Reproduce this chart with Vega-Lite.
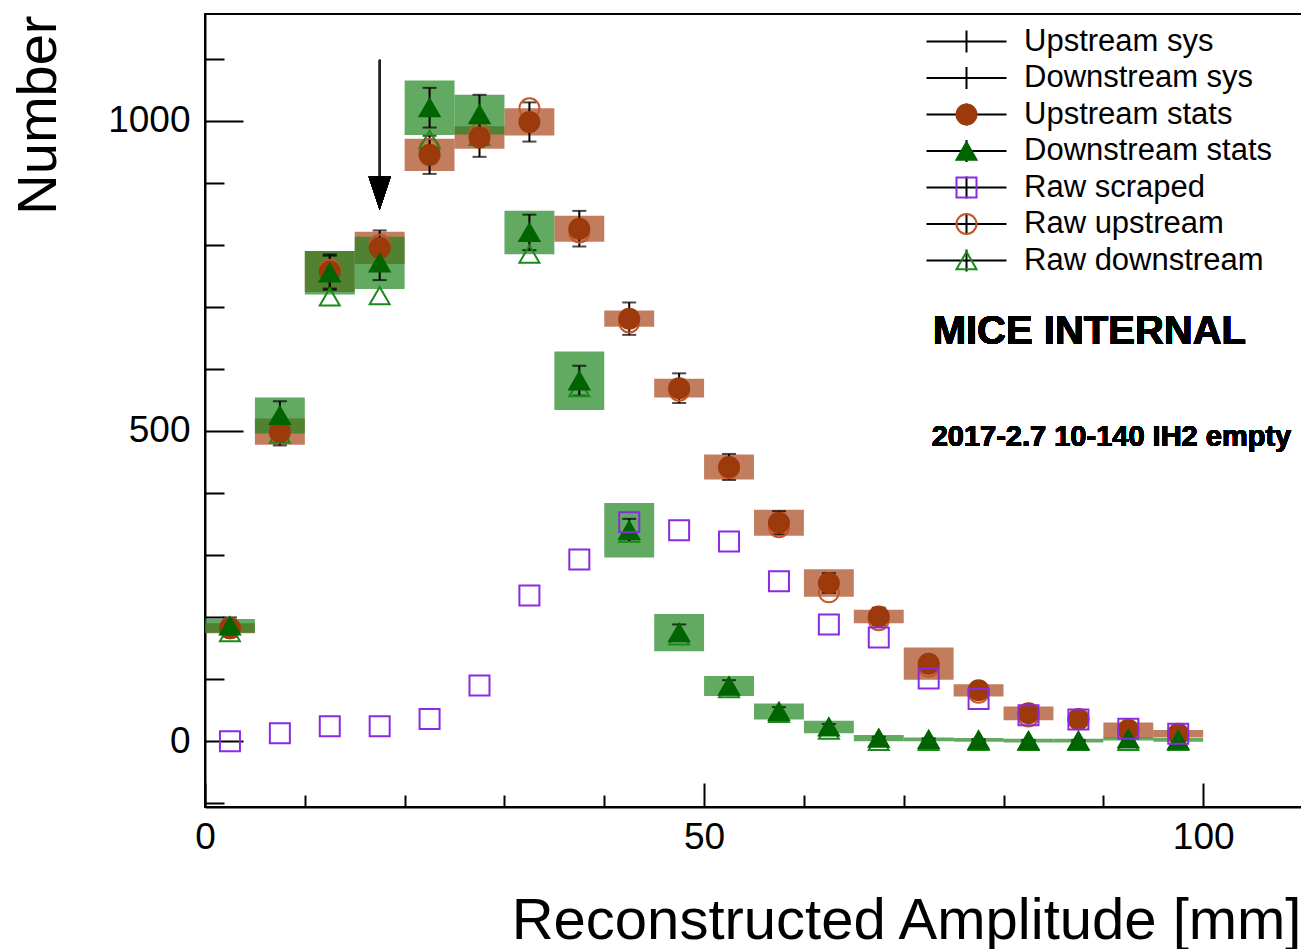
{
  "$schema": "https://vega.github.io/schema/vega-lite/v6.json",
  "width": 1097,
  "height": 793,
  "autosize": {"type": "none"},
  "padding": {"left": 205, "top": 14, "right": 0, "bottom": 142},
  "background": "white",
  "config": {
    "view": {"stroke": "black", "strokeWidth": 2},
    "font": "Liberation Sans",
    "axis": {"grid": false, "labelFont": "Liberation Sans", "titleFont": "Liberation Sans", "labelColor": "black", "titleColor": "black"},
    "legend": {"labelFont": "Liberation Sans", "labelColor": "black"}
  },
  "data": {
    "values": [
      {"x": 2.5, "up": 182, "upStat": 13.5, "upSys": 8, "dn": 186, "dnStat": 13.6, "dnSys": 11, "rawS": 0, "rawU": 182, "rawD": 175},
      {"x": 7.5, "up": 499, "upStat": 22.3, "upSys": 21, "dn": 525, "dnStat": 22.9, "dnSys": 29, "rawS": 13, "rawU": 497, "rawD": 495},
      {"x": 12.5, "up": 757, "upStat": 27.5, "upSys": 33, "dn": 755, "dnStat": 27.5, "dnSys": 35, "rawS": 24, "rawU": 760, "rawD": 716},
      {"x": 17.5, "up": 795, "upStat": 28.2, "upSys": 26, "dn": 771, "dnStat": 27.8, "dnSys": 42, "rawS": 24, "rawU": 800, "rawD": 718},
      {"x": 22.5, "up": 945, "upStat": 30.7, "upSys": 26, "dn": 1021, "dnStat": 32, "dnSys": 44, "rawS": 36, "rawU": 955, "rawD": 970},
      {"x": 27.5, "up": 973, "upStat": 31.2, "upSys": 18, "dn": 1010, "dnStat": 31.8, "dnSys": 32, "rawS": 90, "rawU": 980, "rawD": 975},
      {"x": 32.5, "up": 998, "upStat": 31.6, "upSys": 22, "dn": 820, "dnStat": 28.6, "dnSys": 35, "rawS": 235, "rawU": 1020, "rawD": 785},
      {"x": 37.5, "up": 826, "upStat": 28.7, "upSys": 21, "dn": 581, "dnStat": 24.1, "dnSys": 47, "rawS": 293, "rawU": 820, "rawD": 570},
      {"x": 42.5, "up": 681, "upStat": 26.1, "upSys": 13, "dn": 340, "dnStat": 18.4, "dnSys": 44, "rawS": 353, "rawU": 675, "rawD": 335},
      {"x": 47.5, "up": 569, "upStat": 23.9, "upSys": 15, "dn": 175, "dnStat": 13.2, "dnSys": 30, "rawS": 340, "rawU": 565, "rawD": 170},
      {"x": 52.5, "up": 442, "upStat": 21, "upSys": 20, "dn": 89, "dnStat": 9.4, "dnSys": 16, "rawS": 322, "rawU": 440, "rawD": 85},
      {"x": 57.5, "up": 352, "upStat": 18.8, "upSys": 21, "dn": 48, "dnStat": 6.9, "dnSys": 13, "rawS": 258, "rawU": 345, "rawD": 45},
      {"x": 62.5, "up": 255, "upStat": 16, "upSys": 22, "dn": 23, "dnStat": 4.8, "dnSys": 10, "rawS": 188, "rawU": 240, "rawD": 18},
      {"x": 67.5, "up": 201, "upStat": 14.2, "upSys": 11, "dn": 5, "dnStat": 2.2, "dnSys": 5, "rawS": 167, "rawU": 195, "rawD": 0},
      {"x": 72.5, "up": 125, "upStat": 11.2, "upSys": 26, "dn": 3, "dnStat": 1.7, "dnSys": 3, "rawS": 101, "rawU": 120, "rawD": 0},
      {"x": 77.5, "up": 82, "upStat": 9.1, "upSys": 10, "dn": 2, "dnStat": 1.4, "dnSys": 3, "rawS": 68, "rawU": 78, "rawD": 0},
      {"x": 82.5, "up": 45, "upStat": 6.7, "upSys": 11, "dn": 1, "dnStat": 1, "dnSys": 3, "rawS": 42, "rawU": 40, "rawD": 0},
      {"x": 87.5, "up": 36, "upStat": 6, "upSys": 0, "dn": 1, "dnStat": 1, "dnSys": 3, "rawS": 35, "rawU": 35, "rawD": 0},
      {"x": 92.5, "up": 18, "upStat": 4.2, "upSys": 12, "dn": 4, "dnStat": 2, "dnSys": 3, "rawS": 20, "rawU": 18, "rawD": 0},
      {"x": 97.5, "up": 12, "upStat": 3.5, "upSys": 6, "dn": 2, "dnStat": 1.4, "dnSys": 3, "rawS": 12, "rawU": 11, "rawD": 0}
    ]
  },
  "layer": [
    {
      "mark": {"type": "point", "opacity": 0},
      "encoding": {
        "x": {
          "field": "x", "type": "quantitative", "title": "Reconstructed Amplitude [mm]",
          "scale": {"domain": [0, 109.9], "nice": false, "zero": false},
          "axis": {
            "values": [0, 10, 20, 30, 40, 50, 60, 70, 80, 90, 100],
            "format": "d",
            "labelExpr": "datum.value % 50 === 0 ? datum.label : ''",
            "labelFlush": false, "labelOverlap": false, "grid": false,
            "tickSize": {"condition": {"test": "datum.value % 50 === 0", "value": -24}, "value": -12},
            "tickColor": "black", "tickWidth": 2,
            "domainColor": "black", "domainWidth": 2,
            "labelFontSize": 37, "labelPadding": 36,
            "title": "Reconstructed Amplitude [mm]",
            "titleFontSize": 58, "titleFontWeight": "normal",
            "titleAnchor": "end", "titleAlign": "right", "titleBaseline": "alphabetic",
            "titleX": 1096, "titleY": 131
          }
        },
        "y": {
          "field": "up", "type": "quantitative", "title": "Number",
          "scale": {"domain": [-106, 1172], "nice": false, "zero": false},
          "axis": {
            "values": [-100, 0, 100, 200, 300, 400, 500, 600, 700, 800, 900, 1000, 1100],
            "format": "d",
            "labelExpr": "datum.value % 500 === 0 ? datum.label : ''",
            "labelFlush": false, "labelOverlap": false, "grid": false,
            "tickSize": {"condition": {"test": "datum.value % 500 === 0", "value": -38}, "value": -19},
            "tickColor": "black", "tickWidth": 2,
            "domainColor": "black", "domainWidth": 2,
            "labelFontSize": 37, "labelPadding": 53,
            "title": "Number",
            "titleFontSize": 56, "titleFontWeight": "normal",
            "titleAngle": -90, "titleAnchor": "end", "titleAlign": "right", "titleBaseline": "middle",
            "titleX": -167, "titleY": 1
          }
        }
      }
    },
    {
      "mark": {"type": "errorbar", "ticks": false, "color": "#a8441a", "rule": {"strokeWidth": 49.9, "opacity": 0.7}},
      "encoding": {
        "x": {"field": "x", "type": "quantitative", "title": "Reconstructed Amplitude [mm]"},
        "y": {"field": "up", "type": "quantitative", "title": "Number"},
        "yError": {"field": "upSys"}
      }
    },
    {
      "mark": {"type": "errorbar", "ticks": false, "color": "#1f841f", "rule": {"strokeWidth": 49.9, "opacity": 0.7}},
      "encoding": {
        "x": {"field": "x", "type": "quantitative", "title": "Reconstructed Amplitude [mm]"},
        "y": {"field": "dn", "type": "quantitative", "title": "Number"},
        "yError": {"field": "dnSys"}
      }
    },
    {
      "mark": {"type": "errorbar", "color": "black", "ticks": {"size": 14, "thickness": 2}, "rule": {"strokeWidth": 2}},
      "encoding": {
        "x": {"field": "x", "type": "quantitative", "title": "Reconstructed Amplitude [mm]"},
        "y": {"field": "up", "type": "quantitative", "title": "Number"},
        "xError": {"value": 2.5}
      }
    },
    {
      "mark": {"type": "errorbar", "color": "black", "ticks": {"size": 14, "thickness": 2}, "rule": {"strokeWidth": 2}},
      "encoding": {
        "x": {"field": "x", "type": "quantitative", "title": "Reconstructed Amplitude [mm]"},
        "y": {"field": "dn", "type": "quantitative", "title": "Number"},
        "xError": {"value": 2.5}
      }
    },
    {
      "mark": {"type": "errorbar", "color": "black", "ticks": {"size": 14, "thickness": 2}, "rule": {"strokeWidth": 2}},
      "encoding": {
        "x": {"field": "x", "type": "quantitative", "title": "Reconstructed Amplitude [mm]"},
        "y": {"field": "up", "type": "quantitative", "title": "Number"},
        "yError": {"field": "upStat"}
      }
    },
    {
      "mark": {"type": "errorbar", "color": "black", "ticks": {"size": 14, "thickness": 2}, "rule": {"strokeWidth": 2}},
      "encoding": {
        "x": {"field": "x", "type": "quantitative", "title": "Reconstructed Amplitude [mm]"},
        "y": {"field": "dn", "type": "quantitative", "title": "Number"},
        "yError": {"field": "dnStat"}
      }
    },
    {
      "data": {"values": []},
      "mark": {"type": "point", "filled": false, "shape": "M-4,0L4,0M0,-1.1L0,1.1"},
      "encoding": {
        "color": {
          "datum": "Upstream sys", "type": "nominal",
          "scale": {
            "domain": ["Upstream sys", "Downstream sys", "Upstream stats", "Downstream stats", "Raw scraped", "Raw upstream", "Raw downstream"],
            "range": ["black", "black", "black", "black", "black", "black", "black"]
          },
          "legend": {
            "title": null, "orient": "none", "legendX": 746, "legendY": 12, "padding": 0,
            "symbolType": "M-4,0L4,0M0,-1.1L0,1.1", "symbolSize": 400, "symbolStrokeWidth": 2,
            "symbolStrokeColor": "black", "symbolFillColor": "transparent", "symbolOpacity": 1,
            "labelFontSize": 31, "labelOffset": 42, "labelLimit": 0, "rowPadding": 4.5
          }
        }
      }
    },
    {
      "transform": [{"fold": ["rawU", "rawD", "up", "dn", "rawS"], "as": ["series", "val"]}],
      "mark": {"type": "point", "size": 400, "strokeWidth": 2, "opacity": 1},
      "encoding": {
        "x": {"field": "x", "type": "quantitative", "title": "Reconstructed Amplitude [mm]"},
        "y": {"field": "val", "type": "quantitative", "title": "Number"},
        "shape": {
          "field": "series", "type": "nominal",
          "scale": {
            "domain": ["usys", "dsys", "up", "dn", "rawS", "rawU", "rawD"],
            "range": ["circle", "circle", "circle", "triangle-up", "square", "circle", "triangle-up"]
          },
          "legend": {
            "title": null, "orient": "none", "legendX": 746, "legendY": 12, "padding": 0,
            "symbolSize": 400, "symbolStrokeWidth": 2, "symbolOpacity": 1,
            "labelFontSize": 31, "labelOffset": 42, "labelLimit": 0, "rowPadding": 4.5, "labelOpacity": 0
          }
        },
        "fill": {
          "field": "series", "type": "nominal",
          "scale": {
            "domain": ["usys", "dsys", "up", "dn", "rawS", "rawU", "rawD"],
            "range": ["transparent", "transparent", "#9c3a0c", "#006400", "transparent", "transparent", "transparent"]
          },
          "legend": {
            "title": null, "orient": "none", "legendX": 746, "legendY": 12, "padding": 0,
            "symbolSize": 400, "symbolStrokeWidth": 2, "symbolOpacity": 1,
            "labelFontSize": 31, "labelOffset": 42, "labelLimit": 0, "rowPadding": 4.5, "labelOpacity": 0
          }
        },
        "stroke": {
          "field": "series", "type": "nominal",
          "scale": {
            "domain": ["usys", "dsys", "up", "dn", "rawS", "rawU", "rawD"],
            "range": ["transparent", "transparent", "#9c3a0c", "#006400", "#8a2be2", "#c4562a", "#1a8a1a"]
          },
          "legend": {
            "title": null, "orient": "none", "legendX": 746, "legendY": 12, "padding": 0,
            "symbolSize": 400, "symbolStrokeWidth": 2, "symbolOpacity": 1,
            "labelFontSize": 31, "labelOffset": 42, "labelLimit": 0, "rowPadding": 4.5, "labelOpacity": 0
          }
        }
      }
    },
    {
      "mark": {"type": "rule", "color": "#222222", "strokeWidth": 1.5},
      "encoding": {
        "x": {"datum": 17.5, "type": "quantitative", "title": "Reconstructed Amplitude [mm]"},
        "y": {"datum": 1098, "type": "quantitative", "title": "Number"},
        "y2": {"datum": 905}
      }
    },
    {
      "mark": {"type": "point", "shape": "M-1,-1.5L1,-1.5L0,1.5Z", "size": 484, "filled": true, "color": "black", "opacity": 1},
      "encoding": {
        "x": {"datum": 17.5, "type": "quantitative", "title": "Reconstructed Amplitude [mm]"},
        "y": {"datum": 883, "type": "quantitative", "title": "Number"}
      }
    },
    {
      "mark": {"type": "text", "text": "MICE INTERNAL", "font": "Liberation Sans", "fontSize": 40, "fontWeight": "bold", "align": "left", "baseline": "middle", "color": "black"},
      "encoding": {
        "x": {"datum": 72.9, "type": "quantitative", "title": "Reconstructed Amplitude [mm]"},
        "y": {"datum": 659, "type": "quantitative", "title": "Number"}
      }
    },
    {
      "mark": {"type": "text", "text": "2017-2.7 10-140 IH2 empty", "font": "Liberation Sans", "fontSize": 29, "fontWeight": "bold", "align": "left", "baseline": "middle", "color": "black"},
      "encoding": {
        "x": {"datum": 72.8, "type": "quantitative", "title": "Reconstructed Amplitude [mm]"},
        "y": {"datum": 490, "type": "quantitative", "title": "Number"}
      }
    }
  ]
}
